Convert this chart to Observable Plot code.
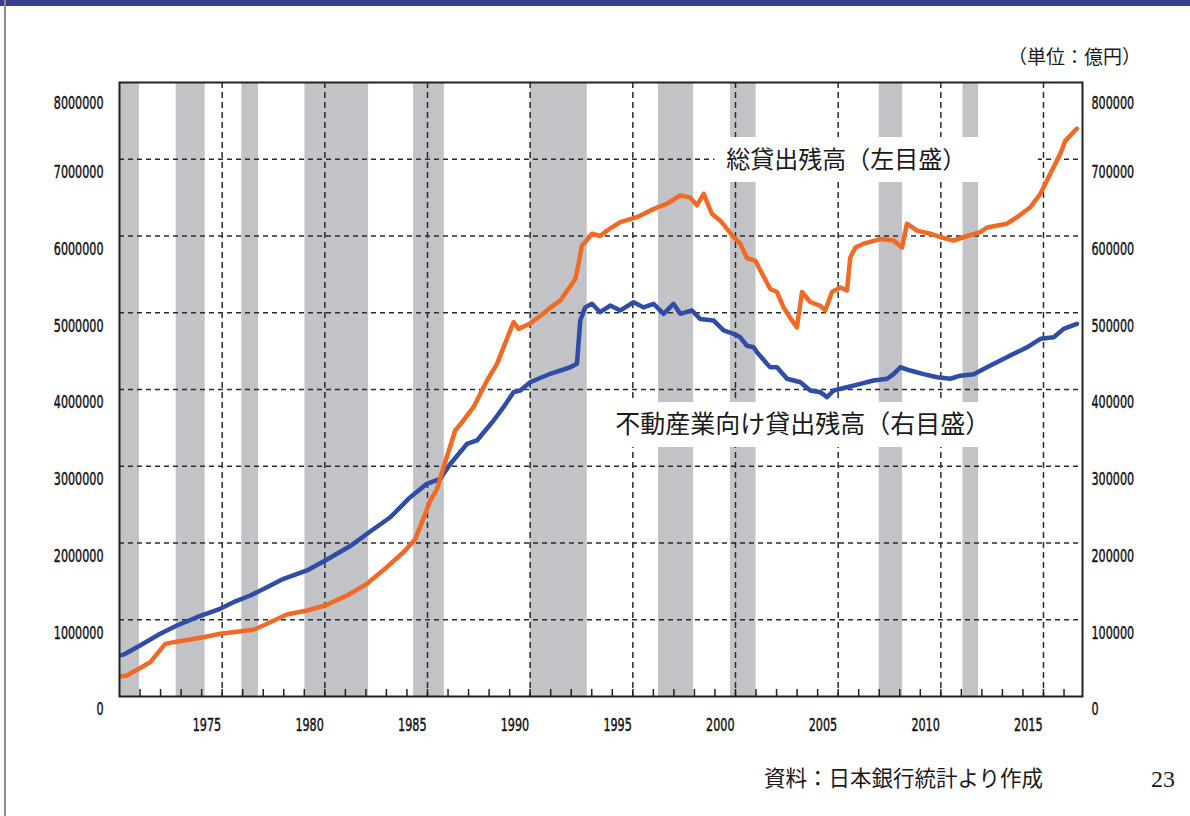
<!DOCTYPE html>
<html>
<head>
<meta charset="utf-8">
<script src="https://cdn.jsdelivr.net/npm/d3@7"></script>
<script src="https://cdn.jsdelivr.net/npm/@observablehq/plot@0.6"></script>
<style>
  body { margin: 0; background: #fff; }
  #page { position: relative; width: 1190px; height: 816px; overflow: hidden; background: #fff;
          font-family: "Noto Sans CJK JP", "Noto Sans", sans-serif; color: #1a1a1a; }
  .topbar { position: absolute; left: 0; top: 0; width: 1190px; height: 6px; background: #363d8d; }
  .leftrule { position: absolute; left: 4px; top: 0; width: 2px; height: 816px; background: #8c8c8c; }
  #chart { position: absolute; left: 0; top: 0; }
  .note { position: absolute; white-space: nowrap; line-height: 1; }
  .unit { left: 1008px; top: 46px; font-size: 19px; }
  .source { left: 764px; top: 766px; font-size: 21.5px; }
  .pageno { left: 1151px; top: 767px; font-size: 24px; font-family: "Liberation Serif", "DejaVu Serif", serif; }
</style>
</head>
<body>
<div id="page">
  <div class="topbar"></div>
  <div class="leftrule"></div>
  <div id="chart"></div>
  <div class="note unit">（単位：億円）</div>
  <div class="note source">資料：日本銀行統計より作成</div>
  <div class="note pageno">23</div>
</div>
<script>
// 総貸出残高（億円・左目盛）
const totalYears = [
  1971.1, 1971.36, 1972.5, 1973.23, 1973.63, 1975.09, 1975.9, 1977.53, 1978.0, 1979.15,
  1980.13, 1981.02, 1982.08, 1983.05, 1984.02, 1984.83, 1985.4, 1985.89, 1986.13, 1986.46,
  1986.8, 1987.35, 1987.76, 1988.24, 1988.9, 1989.38, 1990.19, 1990.44, 1991.0, 1991.5,
  1992.0, 1992.47, 1993.2, 1993.36, 1993.52, 1993.68, 1994.01, 1994.41, 1994.74, 1995.39,
  1996.2, 1997.0, 1997.66, 1998.31, 1998.8, 1999.12, 1999.45, 1999.85, 2000.26, 2000.91,
  2001.23, 2001.56, 2001.96, 2002.69, 2003.02, 2003.34, 2003.75, 2003.99, 2004.24, 2004.64,
  2005.13, 2005.37, 2005.7, 2006.1, 2006.43, 2006.59, 2006.84, 2007.24, 2008.05, 2008.7,
  2009.11, 2009.35, 2009.84, 2010.49, 2010.98, 2011.62, 2012.28, 2012.92, 2013.25, 2014.22,
  2014.71, 2015.36, 2015.85, 2016.33, 2016.82, 2017.06, 2017.63
];
const totalLoans = [
  265000, 274000, 447000, 686000, 708000, 773000, 817000, 869000, 925000, 1068000,
  1120000, 1186000, 1316000, 1468000, 1685000, 1880000, 2050000, 2380000, 2550000, 2700000,
  3000000, 3466000, 3600000, 3770000, 4117000, 4330000, 4877000, 4790000, 4860000, 4960000,
  5070000, 5160000, 5440000, 5640000, 5876000, 5920000, 6030000, 6000000, 6070000, 6180000,
  6245000, 6350000, 6420000, 6530000, 6500000, 6400000, 6550000, 6290000, 6200000, 5985000,
  5900000, 5710000, 5680000, 5310000, 5270000, 5070000, 4900000, 4810000, 5270000, 5140000,
  5090000, 5030000, 5270000, 5330000, 5290000, 5720000, 5850000, 5900000, 5960000, 5940000,
  5850000, 6160000, 6070000, 6030000, 5985000, 5940000, 6000000, 6050000, 6110000, 6160000,
  6245000, 6375000, 6550000, 6810000, 7070000, 7240000, 7400000
];

// 不動産業向け貸出残高（億円・右目盛）
const realEstateYears = [
  1971.1, 1971.28, 1972.0, 1972.98, 1973.8, 1974.77, 1975.9, 1976.55, 1977.37, 1978.18,
  1978.99, 1980.13, 1981.02, 1982.24, 1983.21, 1984.19, 1985.16, 1985.97, 1986.62, 1987.11,
  1987.92, 1988.41, 1989.22, 1989.7, 1990.19, 1990.52, 1991.0, 1991.98, 1992.95, 1993.28,
  1993.44, 1993.68, 1994.01, 1994.41, 1994.9, 1995.39, 1996.04, 1996.52, 1997.01, 1997.5,
  1997.98, 1998.31, 1998.88, 1999.28, 1999.93, 2000.42, 2000.91, 2001.23, 2001.56, 2001.88,
  2002.05, 2002.53, 2002.69, 2003.02, 2003.51, 2004.16, 2004.64, 2005.13, 2005.46, 2005.78,
  2006.43, 2007.08, 2007.73, 2008.38, 2008.7, 2009.03, 2009.51, 2010.16, 2010.82, 2011.46,
  2011.95, 2012.6, 2013.25, 2013.9, 2014.55, 2015.2, 2015.85, 2016.5, 2016.98, 2017.63
];
const realEstateLoans = [
  54000, 55600, 66400, 81700, 92500, 103300, 114300, 122900, 131600, 142400,
  153300, 164200, 177200, 196000, 215000, 233600, 259700, 277100, 283600, 303000,
  329000, 333600, 359600, 377000, 396500, 398700, 409500, 420500, 429000, 433500,
  490000, 507000, 511700, 500700, 509400, 503000, 513700, 507000, 511700, 498600,
  511700, 498600, 503000, 492000, 490000, 477000, 472600, 468000, 457000, 455000,
  448600, 433500, 429000, 429000, 414000, 409500, 398700, 396500, 390000, 398700,
  403000, 407400, 411700, 414000, 420000, 429000, 424700, 420000, 416000, 414000,
  418000, 420000, 429000, 437800, 446500, 455000, 466000, 468000, 479000, 485600
];

// 景気後退期（山〜谷）
const recessionStart = [1971.0, 1973.76, 1976.96, 1980.03, 1985.32, 1991.0, 1997.25, 2000.75, 2008.0, 2012.08];
const recessionEnd   = [1971.97, 1975.17, 1977.77, 1983.13, 1986.82, 1993.78, 1998.96, 2002.0, 2009.14, 2012.84];

// 目盛
const leftTicks  = [0, 1000000, 2000000, 3000000, 4000000, 5000000, 6000000, 7000000, 8000000];
const rightTicks = [0, 100000, 200000, 300000, 400000, 500000, 600000, 700000, 800000];
const yearLabels = [1975, 1980, 1985, 1990, 1995, 2000, 2005, 2010, 2015];
const gridYears  = [1976, 1981, 1986, 1991, 1996, 2001, 2006, 2011, 2016];
const gridValues = [1000000, 2000000, 3000000, 4000000, 5000000, 6000000, 7000000];
const tickYears  = d3.range(1972, 2018);

// 系列名ラベル
const seriesLabels = [
  {x1: 2000.0, x2: 2015.75, y1: 6697000, y2: 7283000, tx: 2000.55, ty: 6984000, text: "総貸出残高（左目盛）"},
  {x1: 1994.3, x2: 2015.6, y1: 3244000, y2: 3830000, tx: 1995.15, ty: 3531000, text: "不動産業向け貸出残高（右目盛）"}
];

const rightRatio = 10;            // 左目盛 / 右目盛
const ORANGE = "#f06a26";
const BLUE = "#2f4ca6";
const BAND = "#c2c3c7";
const GRID = "#2b2b2b";

const W = 1190, H = 760, mL = 119, mR = 108, mT = 82, mB = 64;
const yMax = 8000000;
const tickLen = yMax * 7 / (H - mT - mB);

const total = totalYears.map((t, i) => ({t, v: totalLoans[i]}));
const realEstate = realEstateYears.map((t, i) => ({t, v: realEstateLoans[i]}));
const bands = recessionStart.map((s, i) => ({s, e: recessionEnd[i]}));

const numFont = {
  fontFamily: "'DejaVu Sans Condensed', 'DejaVu Sans', sans-serif", fontSize: 18,
  fill: "#111", stroke: "#111", strokeWidth: 0.45
};

const chart = Plot.plot({
  width: W, height: H,
  marginLeft: mL, marginRight: mR, marginTop: mT, marginBottom: mB,
  style: {background: "transparent", overflow: "visible"},
  x: {domain: [1971, 2017.9], axis: null},
  y: {domain: [0, yMax], axis: null},
  marks: [
    // 景気後退期の網掛け
    Plot.rect(bands, {x1: "s", x2: "e", fill: BAND}),
    // 破線の補助線
    Plot.ruleY(gridValues, {stroke: GRID, strokeWidth: 1.5, strokeDasharray: "5,4"}),
    Plot.ruleX(gridYears, {stroke: GRID, strokeWidth: 1.5, strokeDasharray: "6,4"}),
    // ラベルの白地
    Plot.rect(seriesLabels, {x1: "x1", x2: "x2", y1: "y1", y2: "y2", fill: "#fff"}),
    // 系列
    Plot.line(realEstate, {x: "t", y: d => d.v * rightRatio, stroke: BLUE, strokeWidth: 4.5, strokeLinejoin: "round"}),
    Plot.line(total, {x: "t", y: "v", stroke: ORANGE, strokeWidth: 4.5, strokeLinejoin: "round"}),
    // 枠と年の目盛
    Plot.frame({stroke: "#222", strokeWidth: 2}),
    Plot.ruleX(tickYears, {y1: 0, y2: tickLen, stroke: "#222", strokeWidth: 1.5}),
    // 年ラベル
    Plot.text(yearLabels, {x: d => d + 1, y: 0, text: d => String(d), textAnchor: "end", dx: -1, dy: 29, ...numFont}),
    // 左目盛
    Plot.text(leftTicks.filter(d => d < yMax), {y: d => d, frameAnchor: "left", text: d => String(d), textAnchor: "end", dx: -16, dy: 13, ...numFont}),
    Plot.text(leftTicks.filter(d => d >= yMax), {y: d => d, frameAnchor: "left", text: d => String(d), textAnchor: "end", dx: -16, dy: 21, ...numFont}),
    // 右目盛
    Plot.text(rightTicks.filter(d => d * rightRatio < yMax), {y: d => d * rightRatio, frameAnchor: "right", text: d => String(d), textAnchor: "start", dx: 9, dy: 13, ...numFont}),
    Plot.text(rightTicks.filter(d => d * rightRatio >= yMax), {y: d => d * rightRatio, frameAnchor: "right", text: d => String(d), textAnchor: "start", dx: 9, dy: 21, ...numFont}),
    // 系列名
    Plot.text(seriesLabels.slice(0, 1), {x: "tx", y: "ty", text: "text", textAnchor: "start", lineAnchor: "middle", fontSize: 24, fill: "#1a1a1a", fontFamily: "'Noto Sans CJK JP', sans-serif"}),
    Plot.text(seriesLabels.slice(1), {x: "tx", y: "ty", text: "text", textAnchor: "start", lineAnchor: "middle", fontSize: 25, fill: "#1a1a1a", fontFamily: "'Noto Sans CJK JP', sans-serif"})
  ]
});

// 数字の目盛ラベルは縦長の字形にする
d3.select(chart).selectAll("text")
  .filter(function() { return /^\d+$/.test(this.textContent); })
  .attr("transform", function() { return (this.getAttribute("transform") || "") + " scale(0.69,1)"; });

document.getElementById("chart").appendChild(chart);
</script>
</body>
</html>
